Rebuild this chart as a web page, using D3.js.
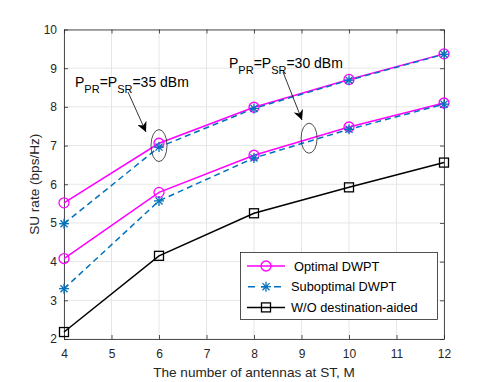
<!DOCTYPE html>
<html>
<head>
<meta charset="utf-8">
<script src="https://cdn.jsdelivr.net/npm/d3@7"></script>
<style>
body { margin: 0; background: #fff; }
text { font-family: "Liberation Sans", Arial, Helvetica, sans-serif; }
</style>
</head>
<body>
<script>
var antennas = [4, 6, 8, 10, 12];
var optimal35 = [5.52, 7.06, 7.99, 8.71, 9.37];
var subopt35 = [4.98, 6.96, 7.96, 8.69, 9.36];
var optimal30 = [4.08, 5.79, 6.75, 7.48, 8.10];
var subopt30 = [3.30, 5.57, 6.68, 7.42, 8.07];
var withoutDA = [2.18, 4.15, 5.25, 5.92, 6.56];
var xTicks = [4, 5, 6, 7, 8, 9, 10, 11, 12];
var yTicks = [2, 3, 4, 5, 6, 7, 8, 9, 10];

var width = 491, height = 382;
var margin = {top: 29.5, right: 47, bottom: 43, left: 64};

var x = d3.scaleLinear().domain([4, 12]).range([margin.left, width - margin.right]);
var y = d3.scaleLinear().domain([2, 10]).range([height - margin.bottom, margin.top]);

var svg = d3.select("body").append("svg")
    .attr("width", width)
    .attr("height", height);

// grid
svg.append("g").selectAll("line").data(xTicks).enter().append("line")
    .attr("x1", d => x(d)).attr("x2", d => x(d))
    .attr("y1", y(2)).attr("y2", y(10))
    .style("stroke", "#e6e6e6").style("stroke-width", 1);
svg.append("g").selectAll("line").data(yTicks).enter().append("line")
    .attr("x1", x(4)).attr("x2", x(12))
    .attr("y1", d => y(d)).attr("y2", d => y(d))
    .style("stroke", "#e6e6e6").style("stroke-width", 1);

// axes
var xAxis = svg.append("g").attr("transform", "translate(0," + y(2) + ")")
    .call(d3.axisBottom(x).tickValues(xTicks).tickSizeInner(-4).tickSizeOuter(0).tickPadding(10));
var xAxisTop = svg.append("g").attr("transform", "translate(0," + y(10) + ")")
    .call(d3.axisTop(x).tickValues(xTicks).tickSizeInner(-4).tickSizeOuter(0).tickFormat(""));
var yAxis = svg.append("g").attr("transform", "translate(" + x(4) + ",0)")
    .call(d3.axisLeft(y).tickValues(yTicks).tickSizeInner(-4).tickSizeOuter(0).tickPadding(7));
var yAxisR = svg.append("g").attr("transform", "translate(" + x(12) + ",0)")
    .call(d3.axisRight(y).tickValues(yTicks).tickSizeInner(-4).tickSizeOuter(0).tickFormat(""));
[xAxis, xAxisTop, yAxis, yAxisR].forEach(function(a) {
    a.selectAll("path").style("stroke", "#262626").style("stroke-width", 0.8);
    a.selectAll("line").style("stroke", "#262626").style("stroke-width", 0.8);
    a.selectAll("text").style("font-size", "12px").style("fill", "#262626")
        .style("font-family", "'Liberation Sans', Arial, sans-serif");
});

// labels
svg.append("text")
    .attr("x", (x(4) + x(12)) / 2).attr("y", 377)
    .attr("text-anchor", "middle")
    .style("font-size", "13.6px").style("fill", "#262626")
    .text("The number of antennas at ST, M");
svg.append("text")
    .attr("transform", "translate(39," + (y(6)) + ") rotate(-90)")
    .attr("text-anchor", "middle")
    .style("font-size", "13.6px").style("fill", "#262626")
    .text("SU rate (bps/Hz)");

var line = d3.line().x((d, i) => x(antennas[i])).y(d => y(d));

var series = [
    {vals: optimal35, color: "#ff00ff", dash: null, marker: "circle"},
    {vals: optimal30, color: "#ff00ff", dash: null, marker: "circle"},
    {vals: subopt35, color: "#0072bd", dash: "6,4", marker: "star"},
    {vals: subopt30, color: "#0072bd", dash: "6,4", marker: "star"},
    {vals: withoutDA, color: "#000000", dash: null, marker: "square"}
];

function drawMarker(g, type, cx, cy, color) {
    if (type === "circle") {
        g.append("circle").attr("cx", cx).attr("cy", cy).attr("r", 5)
            .style("fill", "none").style("stroke", color).style("stroke-width", 1.3);
    } else if (type === "square") {
        g.append("rect").attr("x", cx - 4.5).attr("y", cy - 4.5).attr("width", 9).attr("height", 9)
            .style("fill", "none").style("stroke", color).style("stroke-width", 1.3);
    } else {
        var r = 5;
        [0, 45, 90, 135].forEach(function(a) {
            var t = a * Math.PI / 180;
            g.append("line")
                .attr("x1", cx - r * Math.cos(t)).attr("y1", cy - r * Math.sin(t))
                .attr("x2", cx + r * Math.cos(t)).attr("y2", cy + r * Math.sin(t))
                .style("stroke", color).style("stroke-width", 1.3);
        });
    }
}

series.forEach(function(s) {
    svg.append("path").datum(s.vals)
        .attr("d", line)
        .style("fill", "none")
        .style("stroke", s.color)
        .style("stroke-width", 1.5)
        .style("stroke-dasharray", s.dash);
});
var mg = svg.append("g");
series.forEach(function(s) {
    s.vals.forEach(function(v, i) { drawMarker(mg, s.marker, x(antennas[i]), y(v), s.color); });
});

// ellipses
svg.append("ellipse").attr("cx", x(6)).attr("cy", y(7.0)).attr("rx", 8).attr("ry", 16)
    .style("fill", "none").style("stroke", "#262626").style("stroke-width", 0.8);
svg.append("ellipse").attr("cx", x(9.16)).attr("cy", y(7.19)).attr("rx", 8).attr("ry", 15)
    .style("fill", "none").style("stroke", "#262626").style("stroke-width", 0.8);

// arrows
var defs = svg.append("defs");
defs.append("marker").attr("id", "arrow").attr("viewBox", "0 0 10 10")
    .attr("refX", 10).attr("refY", 5).attr("markerWidth", 10).attr("markerHeight", 10)
    .attr("markerUnits", "userSpaceOnUse").attr("orient", "auto")
    .append("path").attr("d", "M0,0 L10,5 L0,10 L3,5 Z").style("fill", "#000");
svg.append("line").attr("x1", 128).attr("y1", 92).attr("x2", 146).attr("y2", 132)
    .style("stroke", "#000").style("stroke-width", 0.8).attr("marker-end", "url(#arrow)");
svg.append("line").attr("x1", 283).attr("y1", 72).attr("x2", 302).attr("y2", 120)
    .style("stroke", "#000").style("stroke-width", 0.8).attr("marker-end", "url(#arrow)");

function annot(px, py, val) {
    var t = svg.append("text").attr("x", px).attr("y", py)
        .style("font-size", "14px").style("fill", "#000");
    t.append("tspan").text("P");
    t.append("tspan").attr("dy", 6).style("font-size", "11px").text("PR");
    t.append("tspan").attr("dy", -6).text("=P");
    t.append("tspan").attr("dy", 6).style("font-size", "11px").text("SR");
    t.append("tspan").attr("dy", -6).text("=" + val + " dBm");
}
annot(75, 87, 35);
annot(229, 68, 30);

// legend
var lg = svg.append("g");
lg.append("rect").attr("x", 240.5).attr("y", 252.5).attr("width", 197).attr("height", 67)
    .style("fill", "#fff").style("stroke", "#262626").style("stroke-width", 0.8);
var legendItems = [
    {label: "Optimal DWPT", color: "#ff00ff", dash: null, marker: "circle", tx: 294},
    {label: "Suboptimal DWPT", color: "#0072bd", dash: "6,4", marker: "star", tx: 291},
    {label: "W/O destination-aided", color: "#000000", dash: null, marker: "square", tx: 291}
];
legendItems.forEach(function(d, i) {
    var ly = 266 + i * 20.7;
    lg.append("line").attr("x1", 247).attr("x2", 285).attr("y1", ly).attr("y2", ly)
        .style("stroke", d.color).style("stroke-width", 1.5)
        .style("stroke-dasharray", d.dash ? "7,6" : null)
        .style("stroke-dashoffset", d.dash ? -1 : null);
    drawMarker(lg, d.marker, 266, ly, d.color);
    lg.append("text").attr("x", d.tx).attr("y", ly + 4.5)
        .style("font-size", "12.8px").style("fill", "#000").text(d.label);
});
</script>
</body>
</html>
